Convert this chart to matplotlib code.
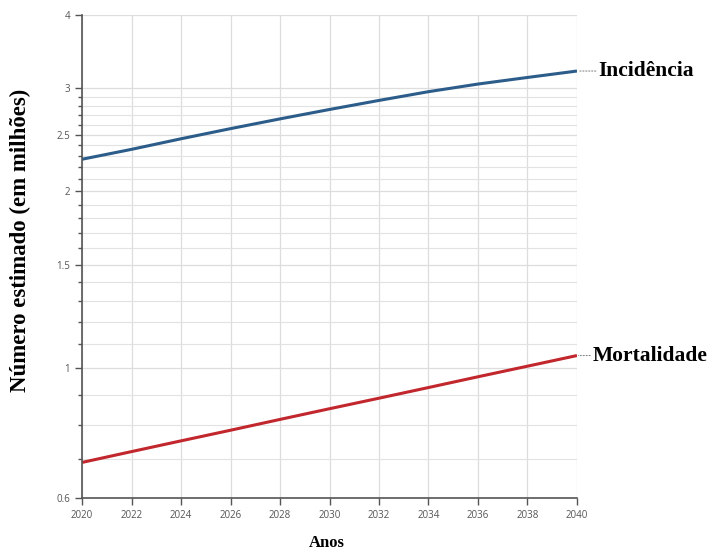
import matplotlib.pyplot as plt
import numpy as np
from matplotlib.ticker import FixedLocator, NullFormatter

# dados estimados a partir da figura (em milhões)
anos = [2020, 2022, 2024, 2026, 2028, 2030, 2032, 2034, 2036, 2038, 2040]
incidencia = [2.27, 2.36, 2.46, 2.56, 2.66, 2.76, 2.86, 2.96, 3.05, 3.13, 3.21]
mortalidade = [0.690, 0.720, 0.751, 0.783, 0.817, 0.852, 0.888, 0.926, 0.966, 1.007, 1.050]

y_ticks = [0.6, 1, 1.5, 2, 2.5, 3, 4]
y_tick_labels = ['0.6', '1', '1.5', '2', '2.5', '3', '4']
y_minor = [0.7, 0.8, 0.9, 1.1, 1.2, 1.3, 1.4, 1.6, 1.7, 1.8, 1.9,
           2.1, 2.2, 2.3, 2.4, 2.6, 2.7, 2.8, 2.9]
x_ticks = list(range(2020, 2041, 2))

azul = '#2c5d8a'
vermelho = '#c1272d'
serif = ['Liberation Serif', 'DejaVu Serif']

fig = plt.figure(figsize=(7.09, 5.52), dpi=100)
ax = fig.add_axes([0.1157, 0.0978, 0.6981, 0.875])

ax.plot(anos, incidencia, color=azul, lw=2.2, solid_capstyle='butt')
ax.plot(anos, mortalidade, color=vermelho, lw=2.2, solid_capstyle='butt')

ax.set_yscale('log')
ax.set_ylim(0.6, 4)
ax.set_xlim(2020, 2040)

ax.yaxis.set_major_locator(FixedLocator(y_ticks))
ax.set_yticklabels(y_tick_labels)
ax.yaxis.set_minor_locator(FixedLocator(y_minor))
ax.yaxis.set_minor_formatter(NullFormatter())
ax.set_xticks(x_ticks)

ax.grid(True, which='major', color='#dddddd', lw=0.9)
ax.grid(True, which='minor', axis='y', color='#e2e2e2', lw=0.8)
ax.set_axisbelow(True)

for s in ['top', 'right']:
    ax.spines[s].set_visible(False)
for s in ['left', 'bottom']:
    ax.spines[s].set_color('#555555')
    ax.spines[s].set_linewidth(1.2)

ax.tick_params(axis='both', which='major', length=5, width=1, color='#555555',
               labelsize=7, labelcolor='#555555')
ax.tick_params(axis='y', which='minor', length=3, width=1, color='#555555')
for lbl in ax.get_xticklabels() + ax.get_yticklabels():
    lbl.set_family(['Open Sans', 'DejaVu Sans'])

# rótulos das séries com linha pontilhada
rotulos = [('Incidência', incidencia, 15.5), ('Mortalidade', mortalidade, 11.5)]
for nome, serie, desloc in rotulos:
    ax.annotate(nome, xy=(anos[-1], serie[-1]), xytext=(desloc, 0),
                textcoords='offset points', ha='left', va='center',
                fontsize=15.5, fontweight='bold', family=serif,
                annotation_clip=False,
                arrowprops=dict(arrowstyle='-', color='#888888', lw=0.8, ls=':',
                                shrinkA=0, shrinkB=1))

ax.set_ylabel('Número estimado (em milhões)', fontsize=16.5, fontweight='bold',
              family=serif)
ax.yaxis.set_label_coords(-0.103, 0.534)
ax.set_xlabel('Anos', fontsize=12, fontweight='bold', family=serif)
ax.xaxis.set_label_coords(0.495, -0.076)

fig.savefig('out.png', dpi=100)
